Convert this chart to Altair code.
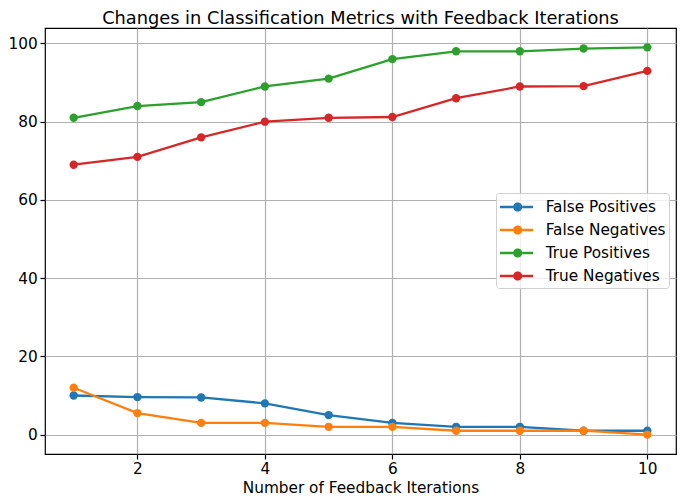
import altair as alt
import pandas as pd

iterations = [1, 2, 3, 4, 5, 6, 7, 8, 9, 10]
false_positives = [10, 9.6, 9.5, 8, 5, 3, 2, 2, 1, 1]
false_negatives = [12, 5.5, 3, 3, 2, 2, 1, 1, 1, 0]
true_positives = [81, 84, 85, 89, 91, 96, 98, 98, 98.7, 99]
true_negatives = [69, 71, 76, 80, 81, 81.2, 86, 89, 89.1, 93]
series_names = ["False Positives", "False Negatives", "True Positives", "True Negatives"]
series_colors = ["#1f77b4", "#ff7f0e", "#2ca02c", "#d62728"]
x_ticks = [2, 4, 6, 8, 10]
y_ticks = [0, 20, 40, 60, 80, 100]

rows = []
for name, vals in zip(series_names, [false_positives, false_negatives, true_positives, true_negatives]):
    for it, v in zip(iterations, vals):
        rows.append({"iteration": it, "value": v, "metric": name})
df = pd.DataFrame(rows)

FONT = "DejaVu Sans"
# legend glyph: short line with a dot in the middle (unit coords, scaled by sqrt(size)/2)
cx, rr, ht, x0, x1 = 0.70, 0.42, 0.105, -0.91, 2.09
legend_path = (f"M{x0},{-ht} L{cx-rr},{-ht} L{cx-rr},{ht} L{x0},{ht} Z "
               f"M{cx+rr},{-ht} L{x1},{-ht} L{x1},{ht} L{cx+rr},{ht} Z "
               f"M{cx+rr},0 A{rr},{rr} 0 1,1 {cx-rr},0 A{rr},{rr} 0 1,1 {cx+rr},0 Z")

color = alt.Color("metric:N",
                  scale=alt.Scale(domain=series_names, range=series_colors),
                  sort=series_names,
                  legend=alt.Legend(title=None, orient="none", legendX=451, legendY=165,
                                    symbolType=legend_path, symbolSize=484,
                                    symbolStrokeWidth=0))

x = alt.X("iteration:Q", scale=alt.Scale(domain=[0.55, 10.45], nice=False, zero=False),
          axis=alt.Axis(values=x_ticks, title="Number of Feedback Iterations", format="d",
                        titleBaseline="alphabetic", titleY=38))
y = alt.Y("value:Q", scale=alt.Scale(domain=[-4.95, 103.95], nice=False, zero=False),
          axis=alt.Axis(values=y_ticks, title=None, format="d"))

chart = alt.Chart(df).mark_line(strokeWidth=2.3, point=alt.OverlayMarkDef(filled=True, size=70, opacity=1)).encode(
    x=x, y=y, color=color, order="iteration:Q"
).properties(
    width=631, height=426,
    title=alt.Title("Changes in Classification Metrics with Feedback Iterations",
                    fontSize=17.8, font=FONT, fontWeight="normal", color="black",
                    offset=0),
    autosize=alt.AutoSizeParams(type="none"),
    padding={"left": 37, "top": 20, "right": 1, "bottom": 42},
).configure_view(
    stroke="black", strokeWidth=1.2
).configure_axis(
    labelFont=FONT, labelFontSize=15.3, labelColor="black",
    titleFont=FONT, titleFontSize=15.3, titleColor="black", titleFontWeight="normal",
    tickColor="black", tickSize=5, tickWidth=1.2,
    domain=False, grid=True, gridColor="#b0b0b0", gridWidth=1.2,
).configure_axisX(labelPadding=2).configure_axisY(labelPadding=2.8).configure_legend(
    labelFont=FONT, labelFontSize=15.3, labelColor="black",
    padding=3, rowPadding=3, strokeColor="#d0d0d0", fillColor="rgba(255,255,255,0.8)",
    cornerRadius=3, labelOffset=24.7,
)

chart.save("out.html", embed_options={"renderer": "svg", "actions": False})
